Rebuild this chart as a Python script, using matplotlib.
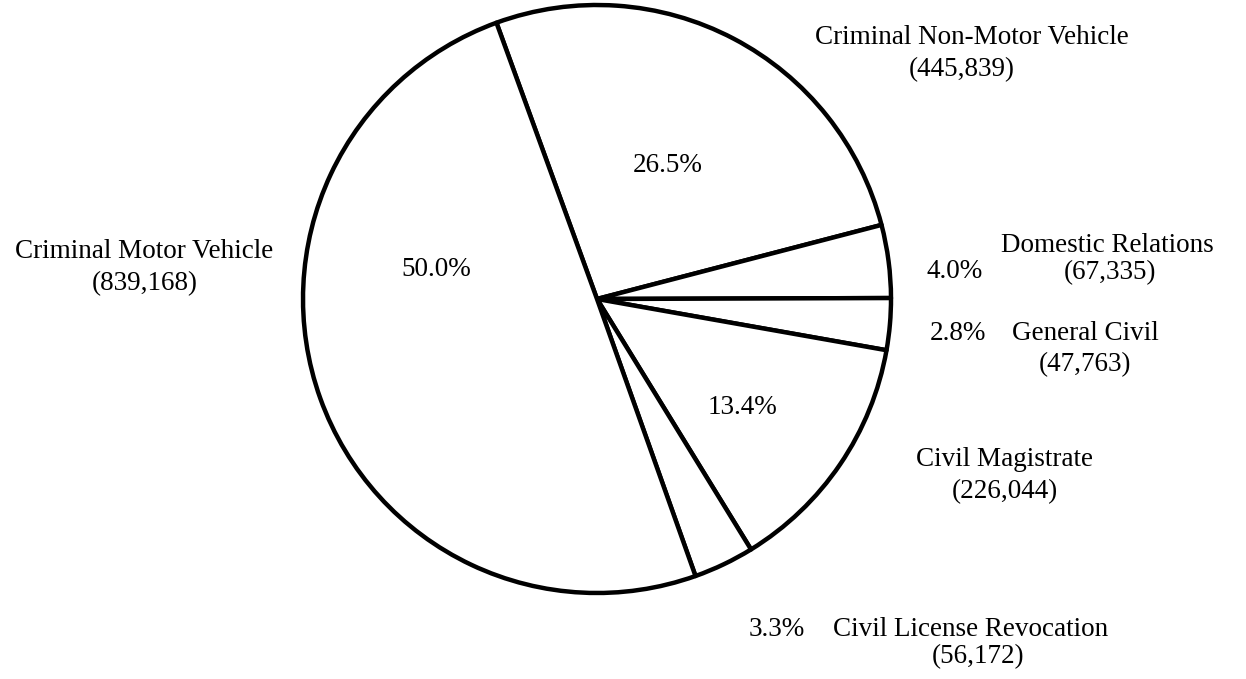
import numpy as np
import matplotlib.pyplot as plt

plt.rcParams['font.family'] = ['Liberation Serif', 'DejaVu Serif']

# data (clockwise from the top boundary)
categories = ["Criminal Non-Motor Vehicle", "Domestic Relations", "General Civil",
              "Civil Magistrate", "Civil License Revocation", "Criminal Motor Vehicle"]
counts = [445839, 67335, 47763, 226044, 56172, 839168]
pct_labels = ["26.5%", "4.0%", "2.8%", "13.4%", "3.3%", "50.0%"]

# layout (pixel coords, y measured from the top of the image)
W, H = 1246, 679
center = (597, 299)
radius = 294
pct_pos = [(668, 165), (955, 272), (958, 333), (742, 407), (777, 629), (436, 270)]
name_pos = [(972, 38), (1107, 245), (1085, 333), (1005, 460), (971, 629), (144, 252)]
count_pos = [(962, 70), (1110, 273), (1085, 365), (1005, 492), (978, 657), (145, 284)]

fig = plt.figure(figsize=(W / 100, H / 100), dpi=100)
ax = fig.add_axes([0, 0, 1, 1])

ax.pie(counts, startangle=110, counterclock=False,
       center=(center[0], H - center[1]), radius=radius,
       colors=['white'] * len(counts),
       wedgeprops=dict(edgecolor='black', linewidth=3.2, joinstyle='round'))

fs = 19.5
for i in range(len(categories)):
    x, y = pct_pos[i]
    ax.text(x, H - y, pct_labels[i], ha='center', va='center', fontsize=fs)
    x, y = name_pos[i]
    ax.text(x, H - y, categories[i], ha='center', va='center', fontsize=fs)
    x, y = count_pos[i]
    ax.text(x, H - y, "({:,})".format(counts[i]), ha='center', va='center', fontsize=fs)

ax.set_xlim(0, W)
ax.set_ylim(0, H)
ax.set_aspect('equal')
ax.axis('off')

fig.savefig("out.png", dpi=100, facecolor='white')
